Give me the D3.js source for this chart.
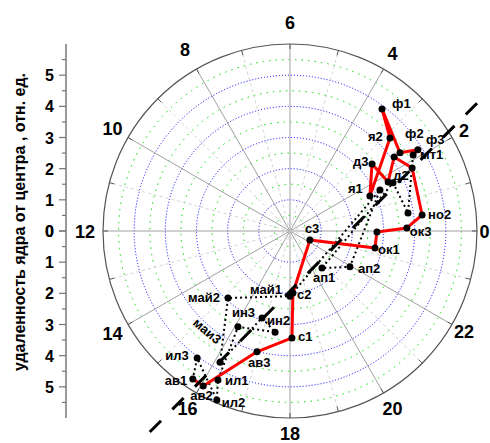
<!DOCTYPE html>
<html>
<head>
<meta charset="utf-8">
<script src="https://cdn.jsdelivr.net/npm/d3@7"></script>
<style>
  body { margin: 0; background: #fff; }
  svg { display: block; font-family: 'Liberation Sans', Arial, sans-serif; }
  .hour-label { font-size: 18px; font-weight: bold; }
  .axis-label { font-size: 16px; font-weight: bold; }
  .axis-title { font-size: 16px; font-weight: bold; }
  .pt-label { font-size: 13px; font-weight: bold; }
</style>
</head>
<body>
<div id="chart"></div>
<script>
// dial: hours, radial axis in relative units
const HOURS = [0, 2, 4, 6, 8, 10, 12, 14, 16, 18, 20, 22];
const RADIUS_TICKS = [0, 1, 2, 3, 4, 5];

// autumn - winter course (red solid)
const redNames = ['ав1', 'ав2', 'ав3', 'с1', 'с2', 'с3', 'ок1', 'ок2', 'ок3', 'но2', 'но3',
  'д1', 'д2', 'д3', 'я1', 'я2', 'ф1', 'ф2', 'ф3', 'мт1'];
const redHours = [15.78, 16.05, 16.98, 18.07, 18.18, 22.38, 23.25, 23.96, 0.10, 0.46, 1.82,
  2.36, 1.77, 2.62, 1.58, 2.86, 3.53, 2.36, 2.16, 2.11];
const redDist = [5.68, 5.70, 4.02, 3.43, 1.99, 0.70, 2.78, 2.79, 3.75, 4.27, 4.41,
  4.10, 3.52, 3.40, 2.80, 4.38, 4.90, 4.33, 4.86, 4.64];

// spring - summer course (black dotted)
const blackNames = ['мт1', 'мт2', 'мт3', 'ап1', 'ап2', 'ап3', 'май1', 'май2', 'маи3',
  'ин1', 'ин2', 'ин3', 'ил1', 'ил2', 'ил3', 'ав1'];
const blackHours = [2.11, 0.58, 1.67, 20.72, 21.94, 1.63, 18.0, 15.15, 16.13,
  16.81, 17.44, 16.10, 16.28, 16.44, 15.59, 15.78];
const blackDist = [4.64, 3.83, 3.65, 1.57, 2.24, 3.17, 2.09, 2.93, 4.77,
  2.93, 3.28, 3.50, 5.31, 5.91, 5.05, 5.68];

// trend line through the cloud (x, y in relative units)
const trendX = [-4.5, 6.0];
const trendY = [-6.45, 4.1];

// label placement next to its marker: [dx, dy, rotation]
const LABEL_OFFSET = {
  'ав1': [-28, 6], 'ав2': [-13, 14], 'ав3': [-9, 15], 'с1': [6, 3], 'с2': [4, 6],
  'с3': [-5, -7], 'ок1': [3, 6], 'ок3': [3, 8], 'но2': [6, 4], 'д2': [5, -2],
  'д3': [-19, 2], 'я1': [-22, -3], 'я2': [-22, 3], 'ф1': [10, -1], 'ф2': [5, -15],
  'ф3': [8, -6], 'мт1': [7, 4], 'ап1': [-9, 14], 'ап2': [8, 6], 'май1': [-40, -2],
  'май2': [-40, 4], 'маи3': [-28, -38, 40], 'ин2': [-8, -7], 'ин3': [-6, -10],
  'ил1': [7, 5], 'ил2': [5, 7], 'ил3': [-32, 2]
};

// distance of the hour labels from the centre (px), default 205
const HOUR_LABEL_R = { 0: 194.5, 2: 201, 6: 209, 8: 210, 18: 202, 22: 201 };

const WIDTH = 490;
const HEIGHT = 443;
const CX = 290;
const CY = 231;
const R = 187;
const AXIS_X = 66;

const svg = d3.select('#chart').append('svg')
  .attr('width', WIDTH)
  .attr('height', HEIGHT);

svg.append('rect').attr('width', WIDTH).attr('height', HEIGHT).attr('fill', '#fff');

// scales
const rScale = d3.scaleLinear().domain([0, 6]).range([0, R]);
const aScale = d3.scaleLinear().domain([0, 24]).range([0, 2 * Math.PI]);
const xScale = d3.scaleLinear().domain([-6, 6]).range([CX - R, CX + R]);
const yScale = d3.scaleLinear().domain([-6, 6]).range([CY + R, CY - R]);
const px = (h, d) => CX + rScale(d) * Math.cos(aScale(h));
const py = (h, d) => CY - rScale(d) * Math.sin(aScale(h));

const $grid = svg.append('g').attr('class', 'g-grid');

// dotted rings: blue on whole units, green on halves
const rings = d3.range(1, 12).map(i => i / 2);
$grid.selectAll('.ring')
  .data(rings)
  .join('circle')
  .attr('cx', CX)
  .attr('cy', CY)
  .attr('r', d => rScale(d))
  .attr('fill', 'none')
  .attr('stroke', d => (d % 1 === 0 ? '#0000ff' : '#00dd00'))
  .attr('stroke-width', 1)
  .attr('stroke-dasharray', d => (d % 1 === 0 ? '1,2' : '1.5,5'));

// spokes every hour
const allHours = d3.range(0, 24);
$grid.selectAll('.spoke')
  .data(allHours)
  .join('line')
  .attr('x1', CX)
  .attr('y1', CY)
  .attr('x2', d => px(d, 6))
  .attr('y2', d => py(d, 6))
  .attr('stroke', d => (d % 2 === 0 ? '#a0a0a0' : '#d4d4d4'))
  .attr('stroke-width', 1)
  .attr('stroke-dasharray', d => (d % 2 === 0 ? null : '3,3'));

// outer ring + hour ticks
$grid.append('circle')
  .attr('cx', CX)
  .attr('cy', CY)
  .attr('r', R)
  .attr('fill', 'none')
  .attr('stroke', '#555')
  .attr('stroke-width', 1.2);

$grid.selectAll('.hour-tick')
  .data(allHours)
  .join('line')
  .attr('x1', d => px(d, 6))
  .attr('y1', d => py(d, 6))
  .attr('x2', d => px(d, 6 - 5 / rScale(1)))
  .attr('y2', d => py(d, 6 - 5 / rScale(1)))
  .attr('stroke', '#555');

svg.selectAll('.hour-label')
  .data(HOURS)
  .join('text')
  .attr('class', 'hour-label')
  .attr('x', d => CX + (HOUR_LABEL_R[d] || 205) * Math.cos(aScale(d)))
  .attr('y', d => CY - (HOUR_LABEL_R[d] || 205) * Math.sin(aScale(d)) + 6.5)
  .attr('text-anchor', 'middle')
  .text(d => d);

// left radial axis, mirrored both ways from the centre
const upScale = d3.scaleLinear().domain([0, 6]).range([CY, CY - R]);
const downScale = d3.scaleLinear().domain([0, 6]).range([CY, CY + R]);
const minorTicks = d3.range(0, 6).map(d => d + 0.5);

const $axis = svg.append('g').attr('class', 'g-axis');
$axis.append('line')
  .attr('x1', AXIS_X).attr('x2', AXIS_X)
  .attr('y1', CY - R).attr('y2', CY + R)
  .attr('stroke', '#777')
  .attr('stroke-width', 1.5);

[upScale, downScale].forEach(scale => {
  $axis.append('g')
    .selectAll('line')
    .data(RADIUS_TICKS)
    .join('line')
    .attr('x1', AXIS_X - 7).attr('x2', AXIS_X)
    .attr('y1', d => scale(d)).attr('y2', d => scale(d))
    .attr('stroke', '#777')
    .attr('stroke-width', 1.2);
  $axis.append('g')
    .selectAll('line')
    .data(minorTicks)
    .join('line')
    .attr('x1', AXIS_X - 4).attr('x2', AXIS_X)
    .attr('y1', d => scale(d)).attr('y2', d => scale(d))
    .attr('stroke', '#777')
    .attr('stroke-width', 1.2);
  $axis.append('g')
    .selectAll('text')
    .data(RADIUS_TICKS)
    .join('text')
    .attr('class', 'axis-label')
    .attr('x', AXIS_X - 12)
    .attr('y', d => scale(d) + 6)
    .attr('text-anchor', 'end')
    .text(d => d);
});

svg.append('text')
  .attr('class', 'axis-title')
  .attr('transform', `translate(25, ${CY - 9}) rotate(-90)`)
  .attr('text-anchor', 'middle')
  .text('удаленность ядра от центра , отн. ед.');

// series
const redData = redNames.map((n, i) => ({ name: n, h: redHours[i], d: redDist[i] }));
const blackData = blackNames.map((n, i) => ({ name: n, h: blackHours[i], d: blackDist[i] }));

const line = d3.line().x(d => px(d.h, d.d)).y(d => py(d.h, d.d));

const $vis = svg.append('g').attr('class', 'g-vis');

$vis.append('path')
  .datum(blackData)
  .attr('d', line)
  .attr('fill', 'none')
  .attr('stroke', '#000')
  .attr('stroke-width', 2)
  .attr('stroke-dasharray', '2,3');

$vis.append('path')
  .datum(redData)
  .attr('d', line)
  .attr('fill', 'none')
  .attr('stroke', '#ff0000')
  .attr('stroke-width', 3)
  .attr('stroke-linejoin', 'round');

const points = redData.concat(blackData.filter(d => !redNames.includes(d.name)));

$vis.selectAll('.marker')
  .data(points)
  .join('circle')
  .attr('class', 'marker')
  .attr('cx', d => px(d.h, d.d))
  .attr('cy', d => py(d.h, d.d))
  .attr('r', 3.5)
  .attr('fill', '#000');

$vis.selectAll('.pt-label')
  .data(points.filter(d => LABEL_OFFSET[d.name]))
  .join('text')
  .attr('class', 'pt-label')
  .attr('transform', d => {
    const [dx, dy, rot] = LABEL_OFFSET[d.name];
    const x = px(d.h, d.d) + dx;
    const y = py(d.h, d.d) + dy;
    return `translate(${x}, ${y})` + (rot ? ` rotate(${rot})` : '');
  })
  .text(d => d.name);

// dashed trend line on top
$vis.append('line')
  .attr('x1', xScale(trendX[0]))
  .attr('y1', yScale(trendY[0]))
  .attr('x2', xScale(trendX[1]))
  .attr('y2', yScale(trendY[1]))
  .attr('stroke', '#000')
  .attr('stroke-width', 3)
  .attr('stroke-dasharray', '16,16');
</script>
</body>
</html>
